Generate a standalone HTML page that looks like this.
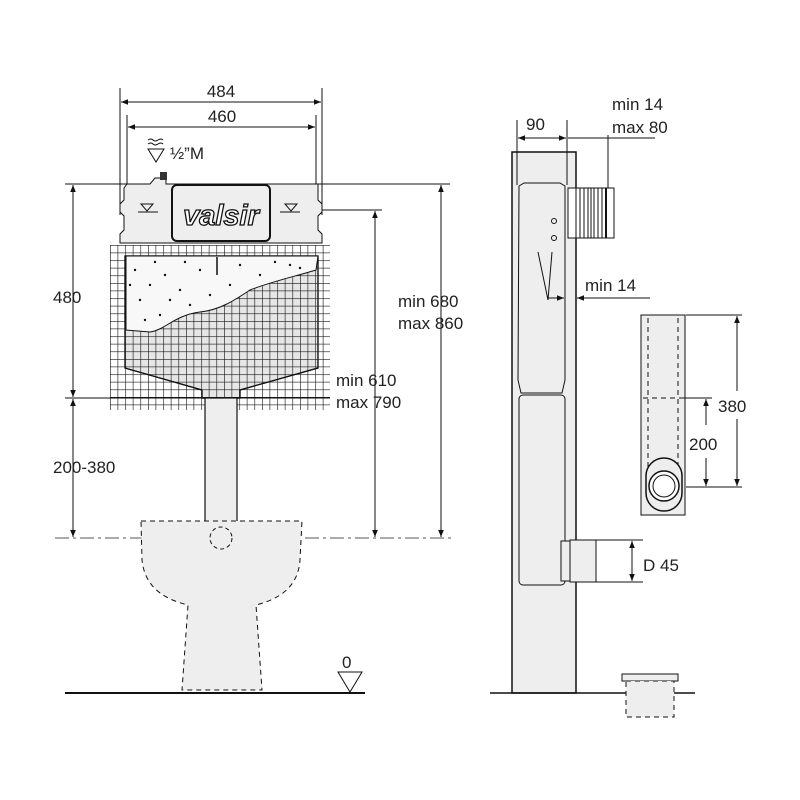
<!DOCTYPE html>
<html><head><meta charset="utf-8"><style>html,body{margin:0;background:#fff}svg{display:block}text{font-family:"Liberation Sans",sans-serif;fill:#222}</style></head><body>
<svg width="800" height="800" viewBox="0 0 800 800" xmlns="http://www.w3.org/2000/svg">
<defs>
<marker id="a" viewBox="0 0 10 10" refX="10" refY="5" markerWidth="7" markerHeight="7" orient="auto-start-reverse"><path d="M0,1 L10,5 L0,9z" fill="#111"/></marker>
<pattern id="g" x="110" y="245" width="7.6" height="7.6" patternUnits="userSpaceOnUse"><path d="M0,0H7.6M0,0V7.6" stroke="#111" stroke-width="1.2"/></pattern>
</defs>
<g stroke="#111" fill="none" stroke-width="1">
<line x1="120" y1="88" x2="120" y2="215"/><line x1="322" y1="88" x2="322" y2="215"/>
<line x1="127" y1="115" x2="127" y2="200"/><line x1="316" y1="115" x2="316" y2="200"/>
<line x1="121" y1="102" x2="321" y2="102" marker-start="url(#a)" marker-end="url(#a)"/>
<line x1="128" y1="127" x2="315" y2="127" marker-start="url(#a)" marker-end="url(#a)"/>
<line x1="65" y1="184" x2="450" y2="184"/>
<line x1="65" y1="398" x2="330" y2="398"/>
<line x1="290" y1="210" x2="382" y2="210"/>
<line x1="55" y1="538" x2="455" y2="538" stroke-dasharray="14 4 3 4" stroke="#555"/>
<line x1="73" y1="185" x2="73" y2="397" marker-start="url(#a)" marker-end="url(#a)"/>
<line x1="73" y1="399" x2="73" y2="537" marker-start="url(#a)" marker-end="url(#a)"/>
<line x1="441" y1="185" x2="441" y2="537" marker-start="url(#a)" marker-end="url(#a)"/>
<line x1="375" y1="211" x2="375" y2="537" marker-start="url(#a)" marker-end="url(#a)"/>
</g>
<path d="M125,256 H318 V368 L240,390 V398 H202 V390 L125,368Z" fill="#e6e6e6" stroke="#111" stroke-width="1.2"/>
<rect x="110" y="245" width="220" height="165" fill="url(#g)"/>
<path d="M125,256 H318 V368 L240,390 V398 H202 V390 L125,368Z" fill="none" stroke="#111" stroke-width="1.2"/>
<path d="M126,256 H318 L316,270 C300,275 270,282 250,290 C235,300 220,310 200,312 C175,315 165,330 150,332 L126,330Z" fill="#f8f8f8" stroke="#111"/>
<g fill="#111">
<circle cx="135" cy="270" r="1.2"/><circle cx="150" cy="285" r="1.2"/><circle cx="140" cy="300" r="1.2"/><circle cx="165" cy="275" r="1.2"/><circle cx="180" cy="290" r="1.2"/><circle cx="200" cy="270" r="1.2"/><circle cx="210" cy="295" r="1.2"/><circle cx="190" cy="305" r="1.2"/><circle cx="160" cy="315" r="1.2"/><circle cx="240" cy="265" r="1.2"/><circle cx="260" cy="275" r="1.2"/><circle cx="290" cy="265" r="1.2"/><circle cx="230" cy="285" r="1.2"/><circle cx="145" cy="320" r="1.2"/><circle cx="170" cy="300" r="1.2"/><circle cx="300" cy="268" r="1.2"/><circle cx="155" cy="262" r="1.2"/><circle cx="185" cy="262" r="1.2"/><circle cx="130" cy="285" r="1.2"/><circle cx="275" cy="262" r="1.2"/>
</g>
<line x1="217" y1="257" x2="217" y2="275" stroke="#111" stroke-width="1.5"/>
<path d="M127,184 H150 L155,178 H166 V184 H318 V200 L322,204 V212 L318,216 V230 L322,234 V243 H120 V234 L124,230 V216 L120,212 V204 L124,200 V188Z" fill="#eee" stroke="#111"/>
<rect x="160" y="172" width="7" height="8" fill="#333"/>
<rect x="172" y="185" width="98" height="56" rx="5" fill="#eee" stroke="#111" stroke-width="2"/>
<text x="221" y="225" font-size="29" font-weight="bold" font-style="italic" text-anchor="middle" stroke="#111" stroke-width="1.3" style="fill:#fff">valsir</text>
<g stroke="#111" fill="none"><path d="M141,204 L153,204 L147,211Z"/><line x1="138" y1="212" x2="158" y2="212"/><path d="M285,204 L297,204 L291,211Z"/><line x1="280" y1="212" x2="300" y2="212"/>
<path d="M148,149 L164,149 L156,162Z"/><path d="M148,140 q3,-2 5,0 t5,0 t5,0M148,144 q3,-2 5,0 t5,0 t5,0"/></g>
<rect x="205" y="398" width="32" height="124" fill="#eee" stroke="#111" stroke-width="1.2"/>
<path d="M141,521 H302 L300,560 C298,590 275,600 256,605 L262,690 H182 L188,605 C168,600 145,590 142,560Z" fill="#eee" stroke="#111" stroke-dasharray="5 4"/>
<circle cx="221" cy="538" r="11" fill="none" stroke="#111" stroke-dasharray="4 3"/>
<line x1="65" y1="693" x2="365" y2="693" stroke="#111" stroke-width="2"/>
<path d="M338,672 H362 L350,692Z" fill="#fff" stroke="#111"/>
<rect x="512" y="152" width="64" height="541" fill="#eee" stroke="#111" stroke-width="1.5"/>
<line x1="490" y1="693" x2="695" y2="693" stroke="#111" stroke-width="1.5"/>
<path d="M519,186 L524,183 H560 L565,186 V380 L562,393 H521 L518,380Z" fill="#eee" stroke="#111"/>
<rect x="519" y="395" width="46" height="190" rx="4" fill="#eee" stroke="#111"/>
<rect x="568" y="188" width="46" height="50" fill="#fff" stroke="#111"/>
<g stroke="#111"><line x1="576" y1="188" x2="576" y2="238"/><line x1="580" y1="188" x2="580" y2="238"/><line x1="584" y1="188" x2="584" y2="238"/><line x1="588" y1="188" x2="588" y2="238"/><line x1="591" y1="188" x2="591" y2="238"/><line x1="594" y1="188" x2="594" y2="238"/><line x1="598" y1="188" x2="598" y2="238"/><line x1="602" y1="188" x2="602" y2="238"/><line x1="606" y1="188" x2="606" y2="238" stroke-width="2"/></g>
<circle cx="554" cy="221" r="2.5" fill="none" stroke="#111"/><circle cx="554" cy="238" r="2.5" fill="none" stroke="#111"/>
<path d="M538,252 L548,300 L552,252" fill="none" stroke="#111"/>
<g stroke="#111" fill="none">
<line x1="517" y1="120" x2="517" y2="185"/><line x1="567" y1="120" x2="567" y2="185"/><line x1="608" y1="135" x2="608" y2="188"/>
<line x1="518" y1="138" x2="566" y2="138" marker-start="url(#a)" marker-end="url(#a)"/>
<line x1="568" y1="138" x2="655" y2="138"/>
<line x1="548" y1="298" x2="564" y2="298" marker-end="url(#a)"/><line x1="592" y1="298" x2="577" y2="298" marker-end="url(#a)"/><line x1="577" y1="298" x2="650" y2="298"/>
</g>
<rect x="561" y="541" width="9" height="40" fill="#eee" stroke="#111"/>
<rect x="570" y="540" width="26" height="42" fill="#eee" stroke="#111"/>
<g stroke="#111" fill="none"><line x1="596" y1="540" x2="643" y2="540"/><line x1="596" y1="582" x2="643" y2="582"/><line x1="632" y1="541" x2="632" y2="581" marker-start="url(#a)" marker-end="url(#a)"/></g>
<rect x="641" y="315" width="44" height="200" fill="#eee" stroke="#111"/>
<g stroke="#111" fill="none" stroke-dasharray="5 4"><line x1="648" y1="318" x2="648" y2="470"/><line x1="678" y1="318" x2="678" y2="470"/><line x1="643" y1="398" x2="683" y2="398"/></g>
<rect x="646" y="458" width="36" height="53" rx="18" fill="#eee" stroke="#111" stroke-width="1.5"/>
<circle cx="664" cy="486" r="15" fill="#fff" stroke="#111" stroke-width="1.5"/><circle cx="664" cy="486" r="11" fill="none" stroke="#111"/>
<g stroke="#111" fill="none"><line x1="686" y1="315" x2="742" y2="315"/><line x1="683" y1="398" x2="712" y2="398"/><line x1="686" y1="487" x2="742" y2="487"/>
<line x1="737" y1="316" x2="737" y2="391"/><line x1="737" y1="419" x2="737" y2="486" marker-end="url(#a)"/><line x1="737" y1="330" x2="737" y2="316" marker-end="url(#a)"/>
<line x1="706" y1="399" x2="706" y2="425" marker-start="url(#a)"/><line x1="706" y1="458" x2="706" y2="486" marker-end="url(#a)"/></g>
<rect x="622" y="674" width="56" height="7" fill="#eee" stroke="#111"/>
<rect x="626" y="681" width="48" height="36" fill="#eee" stroke="#111" stroke-dasharray="5 4"/>
<g font-size="17">
<text x="221" y="97" text-anchor="middle">484</text>
<text x="222" y="122" text-anchor="middle">460</text>
<text x="170" y="159">½”M</text>
<text x="53" y="303">480</text>
<text x="53" y="473">200-380</text>
<text x="398" y="307">min 680</text>
<text x="398" y="329">max 860</text>
<text x="336" y="386">min 610</text>
<text x="336" y="408">max 790</text>
<text x="342" y="668">0</text>
<text x="526" y="130">90</text>
<text x="612" y="110">min 14</text>
<text x="612" y="133">max 80</text>
<text x="585" y="291">min 14</text>
<text x="718" y="412">380</text>
<text x="689" y="450">200</text>
<text x="643" y="571">D 45</text>
</g>
</svg>
</body></html>
